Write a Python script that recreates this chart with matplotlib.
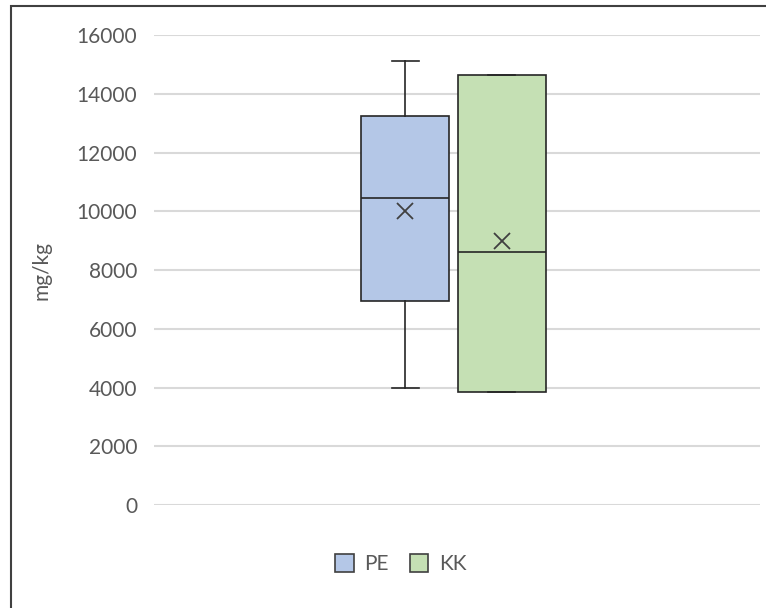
import matplotlib
matplotlib.use("Agg")
import matplotlib.pyplot as plt
from matplotlib.patches import Patch, Rectangle

# box plot summary per series (mg/kg)
labels = ["PE", "KK"]
whislo = [4000, 3840]
q1 = [6950, 3840]
median = [10440, 8600]
q3 = [13230, 14650]
whishi = [15100, 14650]
mean = [10000, 9000]

colors = ["#b4c7e7", "#c5e0b4"]
edge = "#262626"
text_col = "#595959"

plt.rcParams["font.family"] = ["Lato", "DejaVu Sans"]

fig = plt.figure(figsize=(7.66, 6.08), dpi=100)
ax = fig.add_axes([0.201, 0.1694, 0.791, 0.773])

stats = []
for i, lab in enumerate(labels):
    stats.append(dict(label=lab, whislo=whislo[i], q1=q1[i], med=median[i],
                      q3=q3[i], whishi=whishi[i], mean=mean[i], fliers=[]))

bp = ax.bxp(stats, positions=[0.415, 0.574], widths=0.145, capwidths=0.045,
            showmeans=True, patch_artist=True,
            boxprops=dict(edgecolor=edge, linewidth=1.2),
            medianprops=dict(color=edge, linewidth=1.2),
            whiskerprops=dict(color=edge, linewidth=1.2),
            capprops=dict(color=edge, linewidth=1.2),
            meanprops=dict(marker="x", markersize=12, markeredgecolor="#404040",
                           markeredgewidth=1.3))
for box, c in zip(bp["boxes"], colors):
    box.set_facecolor(c)

ax.set_xlim(0, 1)
ax.set_ylim(0, 16000)
ax.set_yticks(range(0, 16001, 2000))
ax.set_xticks([])
ax.grid(axis="y", color="#d9d9d9", linewidth=1.5)
ax.set_axisbelow(True)
for s in ax.spines.values():
    s.set_visible(False)
ax.tick_params(axis="y", length=0, pad=12, labelsize=15, labelcolor=text_col)
ax.set_ylabel("mg/kg", fontsize=15, color=text_col, labelpad=18)

handles = [Patch(facecolor=c, edgecolor="#404040", linewidth=1.2) for c in colors]
fig.legend(handles, labels, loc="center", bbox_to_anchor=(0.523, 0.072),
           ncol=2, frameon=False, fontsize=15, labelcolor=text_col,
           handlelength=0.9, handleheight=0.9, handletextpad=0.5,
           columnspacing=1.0)

# chart frame, left and top edges
fig.add_artist(Rectangle((11 / 766, -0.1), 1.2, 1 - 6 / 608 + 0.1,
                         transform=fig.transFigure, fill=False,
                         edgecolor="#404040", linewidth=1.5))

fig.savefig("out.png", dpi=100)
